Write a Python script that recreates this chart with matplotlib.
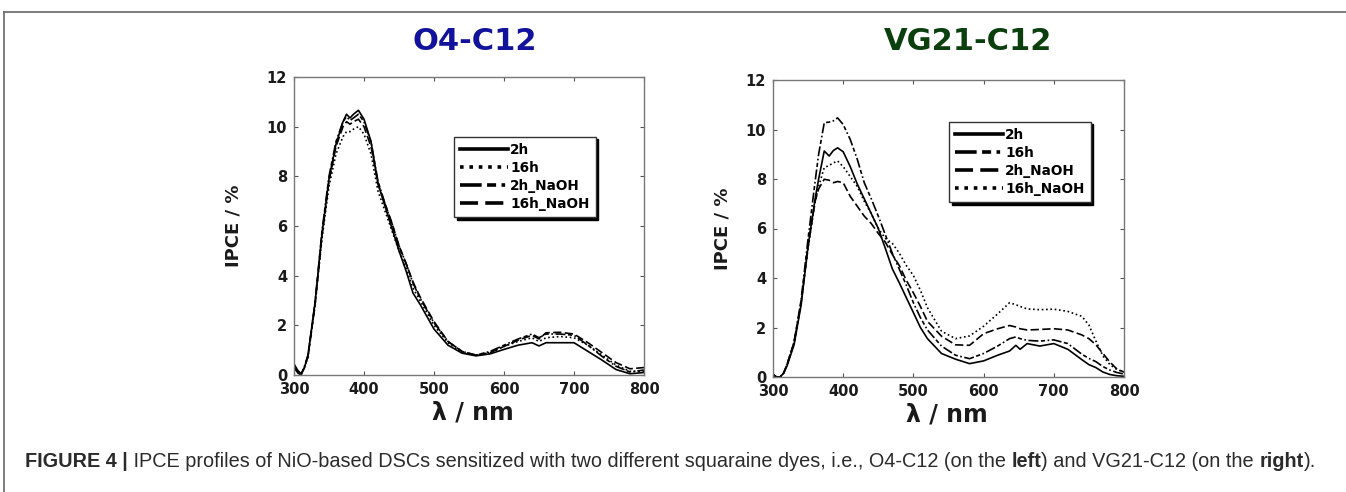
import matplotlib
matplotlib.use("Agg")
import matplotlib.pyplot as plt
from matplotlib.lines import Line2D
from matplotlib.text import Annotation

# ---------------- data ----------------
wl_left = [300, 305, 310, 315, 320, 330, 340, 350, 360, 370, 375, 380, 385, 392, 400,
           410, 420, 430, 440, 450, 460, 470, 480, 490, 500, 520, 540, 560, 580, 600,
           620, 640, 650, 660, 680, 700, 720, 740, 760, 780, 800]
left_2h = [0.45, 0.2, 0.05, 0.3, 0.8, 2.9, 5.7, 7.9, 9.3, 10.2, 10.5, 10.35, 10.5, 10.66, 10.3,
           9.4, 7.7, 6.8, 5.9, 5.0, 4.2, 3.3, 2.85, 2.35, 1.85, 1.2, 0.88, 0.77, 0.85, 1.03,
           1.2, 1.3, 1.17, 1.3, 1.3, 1.3, 0.95, 0.6, 0.22, 0.05, 0.1]
left_16h = [0.4, 0.1, 0.0, 0.35, 0.7, 2.8, 5.5, 7.6, 8.9, 9.6, 9.8, 9.8, 9.9, 10.0, 9.7,
            8.9, 7.4, 6.6, 5.8, 5.0, 4.3, 3.5, 3.0, 2.5, 2.0, 1.3, 0.9, 0.8, 0.9, 1.15,
            1.35, 1.5, 1.35, 1.5, 1.55, 1.5, 1.2, 0.8, 0.4, 0.15, 0.15]
left_2h_naoh = [0.3, 0.1, 0.0, 0.35, 0.8, 2.9, 5.8, 8.0, 9.4, 10.2, 10.4, 10.25, 10.35, 10.5, 10.2,
                9.4, 7.8, 6.9, 6.1, 5.2, 4.5, 3.7, 3.1, 2.6, 2.1, 1.35, 0.95, 0.8, 0.95, 1.2,
                1.45, 1.65, 1.5, 1.65, 1.65, 1.6, 1.2, 0.75, 0.35, 0.12, 0.2]
left_16h_naoh = [0.35, 0.15, 0.0, 0.3, 0.75, 2.8, 5.6, 7.8, 9.2, 10.0, 10.2, 10.1, 10.2, 10.3, 10.0,
                 9.2, 7.7, 6.9, 6.1, 5.2, 4.5, 3.75, 3.15, 2.65, 2.15, 1.35, 0.95, 0.8, 0.9, 1.15,
                 1.4, 1.6, 1.45, 1.7, 1.72, 1.65, 1.3, 0.9, 0.5, 0.25, 0.3]

wl_right = [300, 305, 310, 315, 320, 330, 340, 350, 360, 365, 373, 380, 386, 392, 400,
            410, 420, 430, 440, 450, 460, 470, 480, 490, 500, 510, 520, 540, 560, 580,
            600, 620, 637, 646, 652, 662, 680, 700, 720, 740, 750, 760, 770, 780, 790, 800]
right_2h = [0.1, 0.0, 0.0, 0.15, 0.45, 1.3, 2.9, 5.3, 7.2, 8.0, 9.13, 8.93, 9.15, 9.26, 9.1,
            8.5, 7.8, 7.2, 6.6, 6.0, 5.2, 4.37, 3.8, 3.2, 2.6, 2.0, 1.55, 0.95, 0.72, 0.54,
            0.65, 0.88, 1.05, 1.28, 1.12, 1.35, 1.25, 1.35, 1.12, 0.7, 0.5, 0.38, 0.2, 0.1, 0.05, 0.03]
right_16h = [0.1, 0.0, 0.0, 0.15, 0.5, 1.4, 3.1, 5.6, 7.9, 9.0, 10.27, 10.3, 10.35, 10.47, 10.2,
             9.6, 8.8, 7.85, 7.2, 6.5, 5.75, 5.0, 4.35, 3.7, 3.0, 2.4, 1.9, 1.25, 0.88, 0.74,
             0.95, 1.25, 1.55, 1.62, 1.55, 1.48, 1.45, 1.5, 1.35, 0.92, 0.75, 0.62, 0.42, 0.28, 0.18, 0.12]
right_2h_naoh = [0.1, 0.0, 0.0, 0.15, 0.5, 1.4, 3.0, 5.3, 7.1, 7.6, 7.99, 7.95, 7.85, 7.9, 7.85,
                 7.3, 6.9, 6.5, 6.2, 5.8, 5.45, 4.95, 4.5, 3.9, 3.4, 2.85, 2.25, 1.65, 1.3, 1.28,
                 1.75, 1.95, 2.08, 2.02, 1.95, 1.9, 1.92, 1.95, 1.9, 1.7, 1.55, 1.3, 0.95, 0.6, 0.32, 0.2]
right_16h_naoh = [0.1, 0.0, 0.0, 0.15, 0.5, 1.4, 3.0, 5.2, 7.1, 7.7, 8.46, 8.55, 8.65, 8.73, 8.5,
                  8.1, 7.7, 7.1, 6.6, 6.0, 5.6, 5.4, 5.0, 4.5, 4.1, 3.5, 2.8, 1.85, 1.55, 1.66,
                  2.05, 2.55, 3.0, 2.92, 2.85, 2.75, 2.72, 2.74, 2.65, 2.45, 2.1, 1.45, 0.85, 0.5, 0.3, 0.2]

series_labels = ["2h", "16h", "2h_NaOH", "16h_NaOH"]
titles = ["O4-C12", "VG21-C12"]
x_ticks = [300, 400, 500, 600, 700, 800]
y_ticks = [0, 2, 4, 6, 8, 10, 12]

# ---------------- styles ----------------
SOLID = "-"
DOTTED = (0, (1, 1.6))
DASHDOT = (0, (6, 1.5, 2.5, 1.5, 1, 1.5))
DASHED = (0, (5, 2))
left_styles = [SOLID, DOTTED, DASHDOT, DASHED]
right_styles = [SOLID, DASHDOT, DASHED, DOTTED]
title_colors = ["#12129c", "#0b3f0e"]

W, H = 1346, 492
fig = plt.figure(figsize=(W / 100, H / 100), dpi=100)
fig.patch.set_facecolor("white")

def px_axes(x0, y0, x1, y1):
    return fig.add_axes([x0 / W, 1 - y1 / H, (x1 - x0) / W, (y1 - y0) / H])

ax_l = px_axes(294, 77, 644, 375)
ax_r = px_axes(773, 80, 1124, 377)

panels = [
    (ax_l, wl_left, [left_2h, left_16h, left_2h_naoh, left_16h_naoh], left_styles,
     (0.458, 0.80), (-0.148, 0.5), (0.51, -0.085)),
    (ax_r, wl_right, [right_2h, right_16h, right_2h_naoh, right_16h_naoh], right_styles,
     (0.502, 0.86), (-0.119, 0.5), (0.496, -0.085)),
]

for ax, wl, ys, styles, leg_pos, ylab_pos, xlab_pos in panels:
    for y, ls, lab in zip(ys, styles, series_labels):
        ax.plot(wl, y, color="black", lw=1.2, linestyle=ls, label=lab)
    ax.set_xlim(300, 800)
    ax.set_ylim(0, 12)
    ax.set_xticks(x_ticks)
    ax.set_yticks(y_ticks)
    ax.tick_params(direction="in", length=3, width=0.8, color="#555555",
                   top=True, right=True, labelsize=10.5, labelcolor="#1a1a1a", pad=5)
    for lbl in ax.get_xticklabels() + ax.get_yticklabels():
        lbl.set_fontweight("bold")
    for sp in ax.spines.values():
        sp.set_color("#777777")
        sp.set_linewidth(1.0)
    ax.set_ylabel("IPCE / %", fontsize=13, fontweight="bold", color="#1a1a1a")
    ax.yaxis.set_label_coords(*ylab_pos)
    ax.set_xlabel("λ / nm", fontsize=17, fontweight="bold", color="#1a1a1a")
    ax.xaxis.set_label_coords(*xlab_pos)
    leg = ax.legend(loc="upper left", bbox_to_anchor=leg_pos, fancybox=False,
                    shadow={"color": "black", "alpha": 1.0}, framealpha=1,
                    edgecolor="#333333", prop={"weight": "bold", "size": 9.8},
                    handlelength=3.5, handletextpad=0.15, labelspacing=0.3,
                    borderpad=0.45, borderaxespad=0)
    leg.get_frame().set_linewidth(1.0)
    for ln in leg.get_lines():
        ln.set_linewidth(2.6)

# titles
for xc, t, c in zip([475, 968], titles, title_colors):
    fig.text(xc / W, 1 - 41 / H, t, ha="center", va="center", fontsize=22,
             fontweight="bold", color=c)

# frame lines
fig.add_artist(Line2D([4 / W, 1.0], [1 - 12 / H, 1 - 12 / H], transform=fig.transFigure,
                      color="#666666", lw=1.2))
fig.add_artist(Line2D([4 / W, 4 / W], [1 - 12 / H, 0.0], transform=fig.transFigure,
                      color="#666666", lw=1.2))

# caption
pieces = [("FIGURE 4 |", "bold"),
          (" IPCE profiles of NiO-based DSCs sensitized with two different squaraine dyes, i.e., O4-C12 (on the ", "normal"),
          ("left", "bold"), (") and VG21-C12 (on the ", "normal"), ("right", "bold"), (").", "normal")]
cap_kw = dict(fontsize=14.3, family=["Liberation Sans", "DejaVu Sans"], color="#2b2b2b")
prev = fig.text(25 / W, 1 - 471 / H, pieces[0][0], ha="left", va="bottom",
                fontweight=pieces[0][1], **cap_kw)
for s, wgt in pieces[1:]:
    a = Annotation(s, xy=(1, 0), xycoords=prev, ha="left", va="bottom",
                   fontweight=wgt, **cap_kw)
    fig.add_artist(a)
    prev = a

fig.savefig("out.png", dpi=100, facecolor="white")
